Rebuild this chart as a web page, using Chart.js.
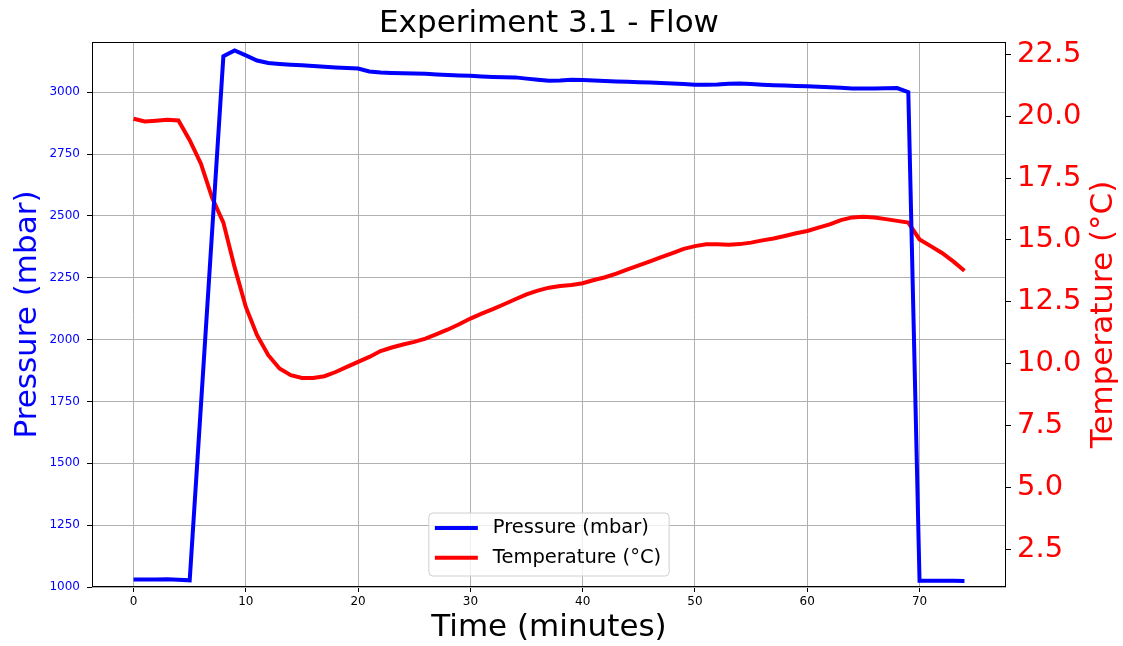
<!DOCTYPE html>
<html>
<head>
<meta charset="utf-8">
<title>Experiment 3.1 - Flow</title>
<script src="https://cdn.jsdelivr.net/npm/chart.js@4.4.1/dist/chart.umd.min.js"></script>
<style>
  html, body { margin: 0; padding: 0; background: #fff; }
  canvas { display: block; }
</style>
</head>
<body>
<canvas id="flowChart" width="1123" height="646"></canvas>
<script>
// time in minutes, one reading per minute
const times = [
     0,  1,  2,  3,  4,  5,  6,  7,  8,  9,
    10, 11, 12, 13, 14, 15, 16, 17, 18, 19,
    20, 21, 22, 23, 24, 25, 26, 27, 28, 29,
    30, 31, 32, 33, 34, 35, 36, 37, 38, 39,
    40, 41, 42, 43, 44, 45, 46, 47, 48, 49,
    50, 51, 52, 53, 54, 55, 56, 57, 58, 59,
    60, 61, 62, 63, 64, 65, 66, 67, 68, 69,
    70, 71, 72, 73, 74
];

// pressure in mbar (null = no reading, line just joins the neighbours)
const pressure = [
    1030, 1030, 1030, 1031, 1029, 1027, null, null, 3145, 3169,
    3149, 3128, 3118, 3114, 3111, 3109, 3106, 3103, 3100, 3098,
    3096, 3084, 3080, 3078, 3077, 3076, 3075, 3072, 3070, 3068,
    3067, 3064, 3062, 3061, 3060, 3055, 3050, 3046, 3047, 3050,
    3049, 3047, 3045, 3043, 3042, 3040, 3039, 3037, 3035, 3033,
    3030, 3030, 3031, 3034, 3035, 3033, 3030, 3028, 3027, 3025,
    3024, 3022, 3020, 3018, 3015, 3015, 3015, 3016, 3017, 3000,
    1025, 1025, 1025, 1025, 1024
];

// temperature in °C
const temperature = [
    19.90, 19.79, 19.82, 19.86, 19.83, 19.03, 18.08, 16.70, 15.70, 13.90,
    12.29, 11.15, 10.34,  9.80,  9.53,  9.42,  9.42,  9.49,  9.66,  9.87,
    10.07, 10.27, 10.51, 10.65, 10.77, 10.88, 11.01, 11.19, 11.38, 11.59,
    11.82, 12.02, 12.20, 12.40, 12.60, 12.80, 12.95, 13.07, 13.14, 13.18,
    13.25, 13.38, 13.49, 13.64, 13.81, 13.97, 14.13, 14.30, 14.47, 14.64,
    14.75, 14.82, 14.82, 14.80, 14.83, 14.89, 14.98, 15.06, 15.16, 15.27,
    15.36, 15.50, 15.63, 15.80, 15.91, 15.94, 15.91, 15.84, 15.77, 15.70,
    15.02, 14.75, 14.47, 14.13, 13.75
];

// tick labels
const timeTicks = [0, 10, 20, 30, 40, 50, 60, 70];
const pressureTicks = [1000, 1250, 1500, 1750, 2000, 2250, 2500, 2750, 3000];
const tempTicks = [2.5, 5.0, 7.5, 10.0, 12.5, 15.0, 17.5, 20.0, 22.5];

const seriesNames = ['Pressure (mbar)', 'Temperature (°C)'];
const seriesColors = ['#0000ff', '#ff0000'];

const FONT = "'DejaVu Sans', sans-serif";

const fixTicks = list => scale => {
    scale.ticks = list.map(v => ({ value: v }));
};

// black frame round the plot (all four sides)
const frame = {
    id: 'frame',
    afterDatasetsDraw(chart) {
        const { ctx, chartArea: a } = chart;
        ctx.save();
        ctx.strokeStyle = '#000';
        ctx.lineWidth = 1;
        ctx.strokeRect(Math.round(a.left) + 0.5, Math.round(a.top) + 0.5,
            Math.round(a.right - a.left) - 1, Math.round(a.bottom - a.top) - 1);
        ctx.restore();
    }
};

// title centred over the plot, right axis title reading upwards
const texts = {
    id: 'texts',
    afterDraw(chart) {
        const { ctx, chartArea: a } = chart;
        ctx.save();
        ctx.font = `31px ${FONT}`;
        ctx.fillStyle = '#000';
        ctx.textAlign = 'center';
        ctx.textBaseline = 'alphabetic';
        ctx.fillText('Experiment 3.1 - Flow', (a.left + a.right) / 2, 32);

        ctx.translate(chart.width - 19.5, (a.top + a.bottom) / 2);
        ctx.rotate(-Math.PI / 2);
        ctx.fillStyle = seriesColors[1];
        ctx.textBaseline = 'middle';
        ctx.fillText('Temperature (°C)', 0, 0);
        ctx.restore();
    }
};

// matplotlib style legend box, lower centre of the plot
const legendBox = {
    id: 'legendBox',
    afterDraw(chart) {
        const { ctx, chartArea: a } = chart;
        const fontSize = 19.5;
        ctx.save();
        ctx.font = `${fontSize}px ${FONT}`;
        const textW = Math.max(...seriesNames.map(n => ctx.measureText(n).width));
        const padL = 6, handle = 43, gap = 15, padR = 8;
        const w = padL + handle + gap + textW + padR;
        const h = 63;
        const x = (a.left + a.right) / 2 - w / 2;
        const y = a.bottom - 11 - h;

        ctx.beginPath();
        ctx.roundRect(x, y, w, h, 4);
        ctx.fillStyle = 'rgba(255,255,255,0.8)';
        ctx.fill();
        ctx.strokeStyle = '#d0d0d0';
        ctx.lineWidth = 1;
        ctx.stroke();

        seriesNames.forEach((name, i) => {
            const rowY = y + 15 + i * 29.7;
            ctx.beginPath();
            ctx.moveTo(x + padL, rowY);
            ctx.lineTo(x + padL + handle, rowY);
            ctx.strokeStyle = seriesColors[i];
            ctx.lineWidth = 4;
            ctx.stroke();
            ctx.fillStyle = '#000';
            ctx.textAlign = 'left';
            ctx.textBaseline = 'middle';
            ctx.fillText(name, x + padL + handle + gap, rowY);
        });
        ctx.restore();
    }
};

const ctx = document.getElementById('flowChart');

new Chart(ctx, {
    type: 'line',
    data: {
        datasets: [{
            label: seriesNames[0],
            data: times.map((t, i) => ({ x: t, y: pressure[i] })),
            borderColor: seriesColors[0],
            backgroundColor: seriesColors[0],
            borderWidth: 4,
            pointRadius: 0,
            tension: 0,
            spanGaps: true,
            yAxisID: 'y'
        }, {
            label: seriesNames[1],
            data: times.map((t, i) => ({ x: t, y: temperature[i] })),
            borderColor: seriesColors[1],
            backgroundColor: seriesColors[1],
            borderWidth: 4,
            pointRadius: 0,
            tension: 0,
            yAxisID: 'y1'
        }]
    },
    options: {
        responsive: false,
        animation: false,
        devicePixelRatio: 1,
        layout: { padding: { top: 42, left: 0, right: 0, bottom: 0 } },
        plugins: {
            legend: { display: false },
            title: { display: false },
            tooltip: { enabled: false }
        },
        scales: {
            x: {
                type: 'linear',
                min: -3.7,
                max: 77.7,
                afterBuildTicks: fixTicks(timeTicks),
                afterFit: s => { s.height = 59; },
                border: { display: false },
                grid: { color: '#b0b0b0', tickColor: '#000', tickLength: 5, lineWidth: 1 },
                ticks: {
                    padding: 3,
                    color: '#000',
                    font: { family: FONT, size: 12 },
                    maxRotation: 0,
                    callback: v => String(v)
                },
                title: {
                    display: true,
                    text: 'Time (minutes)',
                    color: '#000',
                    font: { family: FONT, size: 31, lineHeight: 1 },
                    padding: { top: 0, bottom: 3 }
                }
            },
            y: {
                position: 'left',
                min: 1000,
                max: 3203,
                afterBuildTicks: fixTicks(pressureTicks),
                afterFit: s => { s.width = 92; },
                border: { display: false },
                grid: { color: '#b0b0b0', tickColor: '#000', tickLength: 5, lineWidth: 1 },
                ticks: {
                    padding: 7,
                    color: '#0000ff',
                    font: { family: FONT, size: 12 },
                    callback: v => String(v)
                },
                title: {
                    display: true,
                    text: 'Pressure (mbar)',
                    color: '#0000ff',
                    font: { family: FONT, size: 31, lineHeight: 1 },
                    padding: { top: 12, bottom: 0 }
                }
            },
            y1: {
                position: 'right',
                min: 0.97,
                max: 23.0,
                afterBuildTicks: fixTicks(tempTicks),
                afterFit: s => { s.width = 117; },
                border: { display: false },
                grid: { drawOnChartArea: false, color: '#000', tickColor: '#000', tickLength: 5 },
                ticks: {
                    padding: 6,
                    color: '#ff0000',
                    font: { family: FONT, size: 29 },
                    callback: v => v.toFixed(1)
                },
                title: { display: false }
            }
        }
    },
    plugins: [frame, texts, legendBox]
});
</script>
</body>
</html>
